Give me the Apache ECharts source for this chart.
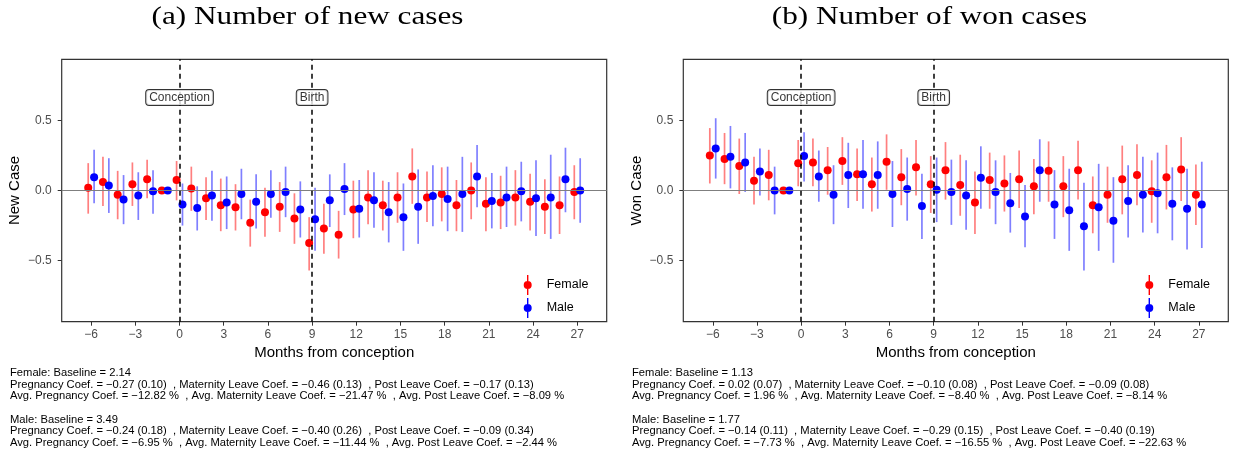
<!DOCTYPE html>
<html>
<head>
<meta charset="utf-8">
<script src="https://cdn.jsdelivr.net/npm/echarts@6/dist/echarts.min.js"></script>
<style>
html, body { margin: 0; padding: 0; background: #fff; }
#chart { width: 1233px; height: 457px; }
</style>
</head>
<body>
<div id="chart"></div>
<script>
// months relative to conception (-1 is the reference month)
const months = [-6, -5, -4, -3, -2, -1, 0, 1, 2, 3, 4, 5, 6, 7, 8, 9, 10, 11,
    12, 13, 14, 15, 16, 17, 18, 19, 20, 21, 22, 23, 24, 25, 26, 27]
const xTicks = [-6, -3, 0, 3, 6, 9, 12, 15, 18, 21, 24, 27]
const yTicks = [-0.5, 0, 0.5]
const eventMonths = [0, 9]
const eventNames = ['Conception', 'Birth']

// (a) new cases
const newFemEst = [0.02, 0.06, -0.03, 0.045, 0.08, 0, 0.075, 0.015, -0.055, -0.105, -0.12, -0.23, -0.155, -0.115, -0.2, -0.375,
    -0.27, -0.315, -0.135, -0.05, -0.105, -0.05, 0.10, -0.05, -0.025, -0.105, 0.0, -0.095, -0.085, -0.05, -0.08, -0.115, -0.105, -0.01]
const newFemLo = [-0.165, -0.11, -0.205, -0.11, -0.055, null, -0.07, -0.145, -0.21, -0.29, -0.285, -0.40, -0.33, -0.295, -0.38, -0.57,
    -0.45, -0.485, -0.34, -0.24, -0.285, -0.23, -0.095, -0.225, -0.22, -0.29, -0.205, -0.29, -0.275, -0.25, -0.285, -0.31, -0.31, -0.205]
const newFemHi = [0.195, 0.24, 0.14, 0.20, 0.22, null, 0.21, 0.17, 0.095, 0.085, 0.045, -0.065, 0.02, 0.06, -0.02, -0.19,
    -0.095, -0.145, 0.07, 0.145, 0.07, 0.13, 0.30, 0.135, 0.165, 0.075, 0.20, 0.095, 0.105, 0.145, 0.12, 0.08, 0.10, 0.18]
const newMaleEst = [0.095, 0.035, -0.065, -0.035, -0.005, 0, -0.10, -0.125, -0.035, -0.085, -0.025, -0.08, -0.025, -0.01, -0.135, -0.205,
    -0.07, 0.01, -0.13, -0.07, -0.155, -0.19, -0.115, -0.04, -0.06, -0.025, 0.10, -0.075, -0.05, -0.005, -0.055, -0.05, 0.08, 0.0]
const newMaleLo = [-0.09, -0.16, -0.24, -0.21, -0.165, null, -0.25, -0.285, -0.215, -0.275, -0.205, -0.27, -0.195, -0.19, -0.335, -0.43,
    -0.26, -0.175, -0.335, -0.265, -0.37, -0.43, -0.38, -0.255, -0.29, -0.295, -0.12, -0.27, -0.26, -0.22, -0.325, -0.345, -0.155, -0.23]
const newMaleHi = [0.29, 0.23, 0.11, 0.13, 0.145, null, 0.05, 0.03, 0.14, 0.10, 0.155, 0.115, 0.145, 0.17, 0.065, 0.02,
    0.115, 0.195, 0.075, 0.13, 0.06, 0.05, 0.15, 0.18, 0.17, 0.24, 0.325, 0.125, 0.17, 0.205, 0.215, 0.255, 0.305, 0.23]

// (b) won cases
const wonFemEst = [0.25, 0.225, 0.175, 0.07, 0.11, 0, 0.195, 0.20, 0.145, 0.21, 0.115, 0.045, 0.205, 0.095, 0.165, 0.045,
    0.145, 0.04, -0.085, 0.075, 0.05, 0.08, 0.03, 0.14, 0.03, 0.145, -0.105, -0.03, 0.08, 0.11, -0.005, 0.095, 0.15, -0.03]
const wonFemLo = [0.05, 0.045, -0.025, -0.10, -0.07, null, 0.03, 0.03, -0.03, 0.04, -0.075, -0.15, 0.005, -0.105, -0.035, -0.16,
    -0.065, -0.18, -0.31, -0.13, -0.15, -0.125, -0.17, -0.08, -0.19, -0.065, -0.305, -0.23, -0.17, -0.105, -0.23, -0.135, -0.075, -0.245]
const wonFemHi = [0.445, 0.41, 0.37, 0.24, 0.29, null, 0.36, 0.37, 0.31, 0.38, 0.30, 0.235, 0.40, 0.295, 0.36, 0.245,
    0.345, 0.255, 0.135, 0.27, 0.25, 0.285, 0.225, 0.35, 0.245, 0.355, 0.10, 0.17, 0.32, 0.33, 0.215, 0.325, 0.38, 0.185]
const wonMaleEst = [0.30, 0.24, 0.20, 0.135, 0.0, 0, 0.245, 0.10, -0.03, 0.11, 0.115, 0.11, -0.025, 0.01, -0.11, 0.005,
    -0.01, -0.035, 0.09, -0.01, -0.09, -0.185, 0.145, -0.10, -0.14, -0.255, -0.12, -0.215, -0.075, -0.03, -0.02, -0.095, -0.13, -0.10]
const wonMaleLo = [0.085, 0.015, -0.01, -0.035, -0.17, null, 0.065, -0.08, -0.24, -0.125, -0.13, -0.13, -0.26, -0.215, -0.345, -0.225,
    -0.245, -0.28, -0.13, -0.24, -0.30, -0.405, -0.08, -0.345, -0.43, -0.57, -0.43, -0.515, -0.335, -0.30, -0.305, -0.355, -0.42, -0.41]
const wonMaleHi = [0.515, 0.46, 0.41, 0.30, 0.17, null, 0.415, 0.285, 0.18, 0.34, 0.36, 0.35, 0.21, 0.235, 0.12, 0.235,
    0.22, 0.215, 0.315, 0.215, 0.125, 0.04, 0.365, 0.145, 0.155, 0.055, 0.19, 0.095, 0.18, 0.24, 0.27, 0.165, 0.155, 0.205]

const panelTitles = ['(a) Number of new cases', '(b) Number of won cases']
const yNames = ['New Case', 'Won Case']
const notesNew = [
    'Female: Baseline = 2.14',
    'Pregnancy Coef. = \u22120.27 (0.10)  , Maternity Leave Coef. = \u22120.46 (0.13)  , Post Leave Coef. = \u22120.17 (0.13)',
    'Avg. Pregnancy Coef. = \u221212.82 %  , Avg. Maternity Leave Coef. = \u221221.47 %  , Avg. Post Leave Coef. = \u22128.09 %',
    '',
    'Male: Baseline = 3.49',
    'Pregnancy Coef. = \u22120.24 (0.18)  , Maternity Leave Coef. = \u22120.40 (0.26)  , Post Leave Coef. = \u22120.09 (0.34)',
    'Avg. Pregnancy Coef. = \u22126.95 %  , Avg. Maternity Leave Coef. = \u221211.44 %  , Avg. Post Leave Coef. = \u22122.44 %'
]
const notesWon = [
    'Female: Baseline = 1.13',
    'Pregnancy Coef. = 0.02 (0.07)  , Maternity Leave Coef. = \u22120.10 (0.08)  , Post Leave Coef. = \u22120.09 (0.08)',
    'Avg. Pregnancy Coef. = 1.96 %  , Avg. Maternity Leave Coef. = \u22128.40 %  , Avg. Post Leave Coef. = \u22128.14 %',
    '',
    'Male: Baseline = 1.77',
    'Pregnancy Coef. = \u22120.14 (0.11)  , Maternity Leave Coef. = \u22120.29 (0.15)  , Post Leave Coef. = \u22120.40 (0.19)',
    'Avg. Pregnancy Coef. = \u22127.73 %  , Avg. Maternity Leave Coef. = \u221216.55 %  , Avg. Post Leave Coef. = \u221222.63 %'
]

const RED = '#FF0000'
const BLUE = '#0000FF'
const SANS = '"Liberation Sans", Arial, sans-serif'
const DODGE = 0.2
const LABEL_Y = 0.663
const legendIcon = 'path://M3.3,0 L4.7,0 L4.7,20 L3.3,20 Z M0,10 A4,4 0 1,1 8,10 A4,4 0 1,1 0,10 Z'

const minus = v => String(v).replace('-', '\u2212')

const toPoints = (est, shift) => months.map((m, i) => [m + shift, est[i]])
const toBars = (lo, hi, shift) => months
    .map((m, i) => [m + shift, lo[i], hi[i]])
    .filter(d => d[1] !== null)

const errorBars = (name, lo, hi, shift, color, g) => ({
    name: name,
    type: 'custom',
    xAxisIndex: g,
    yAxisIndex: g,
    z: 2,
    silent: true,
    itemStyle: { color: color },
    encode: { x: 0, y: [1, 2] },
    renderItem: (params, api) => {
        let top = api.coord([api.value(0), api.value(2)])
        let bottom = api.coord([api.value(0), api.value(1)])
        return {
            type: 'line',
            shape: { x1: top[0], y1: top[1], x2: bottom[0], y2: bottom[1] },
            style: { stroke: color, lineWidth: 1.7, opacity: 0.5 }
        }
    },
    data: toBars(lo, hi, shift)
})

const points = (name, est, shift, color, g) => ({
    name: name,
    type: 'scatter',
    xAxisIndex: g,
    yAxisIndex: g,
    z: 3,
    symbol: 'circle',
    symbolSize: 8,
    itemStyle: { color: color, opacity: 1 },
    data: toPoints(est, shift)
})

const eventData = eventMonths.map((m, i) => [m, LABEL_Y, eventNames[i]])

const refLines = g => ({
    type: 'scatter',
    xAxisIndex: g,
    yAxisIndex: g,
    z: 1,
    symbolSize: 0,
    silent: true,
    data: eventData,
    markLine: {
        silent: true,
        symbol: 'none',
        animation: false,
        label: { show: false },
        data: [
            { yAxis: 0, lineStyle: { color: '#7F7F7F', width: 1.1, type: 'solid' } },
            ...eventMonths.map(m => ({ xAxis: m, lineStyle: { color: '#000', width: 1.5, type: [5, 4] } }))
        ]
    }
})

const eventLabels = g => ({
    type: 'scatter',
    xAxisIndex: g,
    yAxisIndex: g,
    z: 10,
    symbolSize: 0,
    silent: true,
    data: eventData,
    label: {
        show: true,
        position: 'inside',
        formatter: p => p.data[2],
        fontFamily: SANS,
        fontSize: 12,
        color: '#000',
        backgroundColor: '#fff',
        borderColor: '#000',
        borderWidth: 1,
        borderRadius: 3,
        padding: [2, 3, 1, 3]
    }
})

const gridLefts = [61.7, 683.3]

const buildOption = () => {
    let grid = gridLefts.map(l => ({
        left: l, top: 59.3, width: 545, height: 262.4,
        show: true, borderColor: '#333', borderWidth: 1.2, backgroundColor: '#fff'
    }))
    let xAxis = gridLefts.map((l, g) => ({
        type: 'value',
        gridIndex: g,
        min: -8,
        max: 29,
        name: 'Months from conception',
        nameLocation: 'middle',
        nameGap: 23,
        nameTextStyle: { fontFamily: SANS, fontSize: 15, color: '#000' },
        axisLine: { show: false, onZero: false },
        splitLine: { show: false },
        axisTick: { show: true, length: 4, lineStyle: { color: '#333' }, customValues: xTicks },
        axisLabel: {
            customValues: xTicks, margin: 7, fontFamily: SANS, fontSize: 12,
            color: '#4D4D4D', formatter: minus
        }
    }))
    let yAxis = gridLefts.map((l, g) => ({
        type: 'value',
        gridIndex: g,
        min: -0.935,
        max: 0.935,
        name: yNames[g],
        nameLocation: 'middle',
        nameGap: 39,
        nameTextStyle: { fontFamily: SANS, fontSize: 15, color: '#000' },
        axisLine: { show: false, onZero: false },
        splitLine: { show: false },
        axisTick: { show: true, length: 4, lineStyle: { color: '#333' }, customValues: yTicks },
        axisLabel: {
            customValues: yTicks, margin: 10, fontFamily: SANS, fontSize: 12,
            color: '#4D4D4D', formatter: v => minus(v.toFixed(1))
        }
    }))
    let legend = gridLefts.map(l => ({
        orient: 'vertical',
        left: l + 462,
        top: 275,
        padding: 0,
        itemWidth: 8,
        itemHeight: 20,
        itemGap: 3,
        selectedMode: false,
        textStyle: { fontFamily: SANS, fontSize: 12.5, color: '#000', padding: [0, 0, 0, 10] },
        data: [
            { name: 'Female', icon: legendIcon, itemStyle: { color: RED } },
            { name: 'Male', icon: legendIcon, itemStyle: { color: BLUE } }
        ]
    }))
    let series = [
        refLines(0),
        errorBars('Female', newFemLo, newFemHi, -DODGE, RED, 0),
        errorBars('Male', newMaleLo, newMaleHi, DODGE, BLUE, 0),
        points('Female', newFemEst, -DODGE, RED, 0),
        points('Male', newMaleEst, DODGE, BLUE, 0),
        eventLabels(0),
        refLines(1),
        errorBars('Female', wonFemLo, wonFemHi, -DODGE, RED, 1),
        errorBars('Male', wonMaleLo, wonMaleHi, DODGE, BLUE, 1),
        points('Female', wonFemEst, -DODGE, RED, 1),
        points('Male', wonMaleEst, DODGE, BLUE, 1),
        eventLabels(1)
    ]
    let lineY = [373, 384.5, 396, 407.5, 419.5, 431, 442.5]
    let titleFont = '26px "Liberation Serif", serif'
    let graphic = [
        { type: 'text', x: 307.5, y: 17, scaleX: 1.2, style: { text: panelTitles[0], font: titleFont, fill: '#000', align: 'center', verticalAlign: 'middle' } },
        { type: 'text', x: 929.5, y: 17, scaleX: 1.2, style: { text: panelTitles[1], font: titleFont, fill: '#000', align: 'center', verticalAlign: 'middle' } }
    ]
    ;[[notesNew, 10], [notesWon, 632]].forEach(([lines, x]) => {
        lines.forEach((t, i) => {
            if (t) {
                graphic.push({
                    type: 'text', x: x, y: lineY[i],
                    style: { text: t, font: '11.2px "Liberation Sans", Arial, sans-serif', fill: '#000', align: 'left', verticalAlign: 'middle' }
                })
            }
        })
    })
    return {
        animation: false,
        backgroundColor: '#fff',
        textStyle: { fontFamily: SANS },
        grid: grid,
        xAxis: xAxis,
        yAxis: yAxis,
        legend: legend,
        series: series,
        graphic: graphic
    }
}

const chart = echarts.init(document.getElementById('chart'))
chart.setOption(buildOption())
</script>
</body>
</html>
